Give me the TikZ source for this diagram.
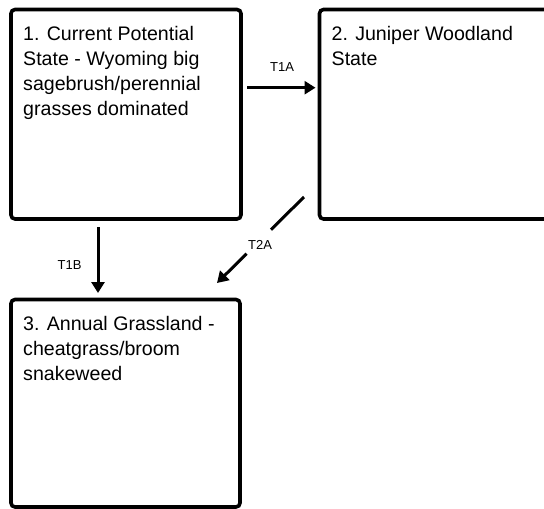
\documentclass[tikz,border=0pt]{standalone}
\usepackage{fontspec}
\setmainfont{Liberation Sans}
\usetikzlibrary{arrows.meta,calc}
\begin{document}
\begin{tikzpicture}[x=1pt,y=-1pt,
  box/.style={draw=black, line width=3.6pt, rounded corners=4pt, outer sep=0pt, inner sep=0pt},
  boxtext/.style={anchor=base west, align=left, inner sep=0pt, font=\fontsize{19.6}{25}\selectfont, text=black},
  lbl/.style={font=\fontsize{13}{14}\selectfont, inner sep=0pt},
  line/.style={line width=3pt},
  arr/.style={line width=3pt, -{Triangle[length=11pt,width=13pt]}}]
\useasboundingbox (0,0) rectangle (544,509);
\clip (0,0) rectangle (544,509);
% boxes
\node[box, minimum width=230pt, minimum height=209.5pt] (s1) at (126,114.25) {};
\node[box, minimum width=250pt, minimum height=209.5pt] (s2) at (444.5,114.25) {};
\node[box, minimum width=229pt, minimum height=207.5pt] (s3) at (125.5,403.25) {};
% texts (base anchor = baseline of last line)
\node[boxtext] (t1) at ($(s1.north west)+(12,106.2)$) {1. Current Potential\\State - Wyoming big\\sagebrush/perennial\\grasses dominated};
\node[boxtext] (t2) at ($(s2.north west)+(12,56.2)$) {2. Juniper Woodland\\State};
\node[boxtext] (t3) at ($(s3.north west)+(12,81.2)$) {3. Annual Grassland -\\cheatgrass/broom\\snakeweed};
% T1A
\draw[arr] ($(s1.north east)+(6,78.2)$) -- ($(s2.north west)+(-4,78.2)$);
\node[lbl] (l1a) at (282,67) {T1A};
% T1B
\draw[arr] ($(s1.south west)+(87,8)$) -- ($(s3.north west)+(87,-6.5)$);
\node[lbl] (l1b) at (69.5,265) {T1B};
% T2A
\coordinate (a) at ($(s2.south west)+(-15.5,-22)$);
\coordinate (b) at ($(s3.north east)+(-23,-16.5)$);
\draw[line] (a) -- ($(a)!0.38!(b)$);
\draw[arr] ($(a)!0.66!(b)$) -- (b);
\node[lbl] (l2a) at (260,245) {T2A};
\end{tikzpicture}
\end{document}
